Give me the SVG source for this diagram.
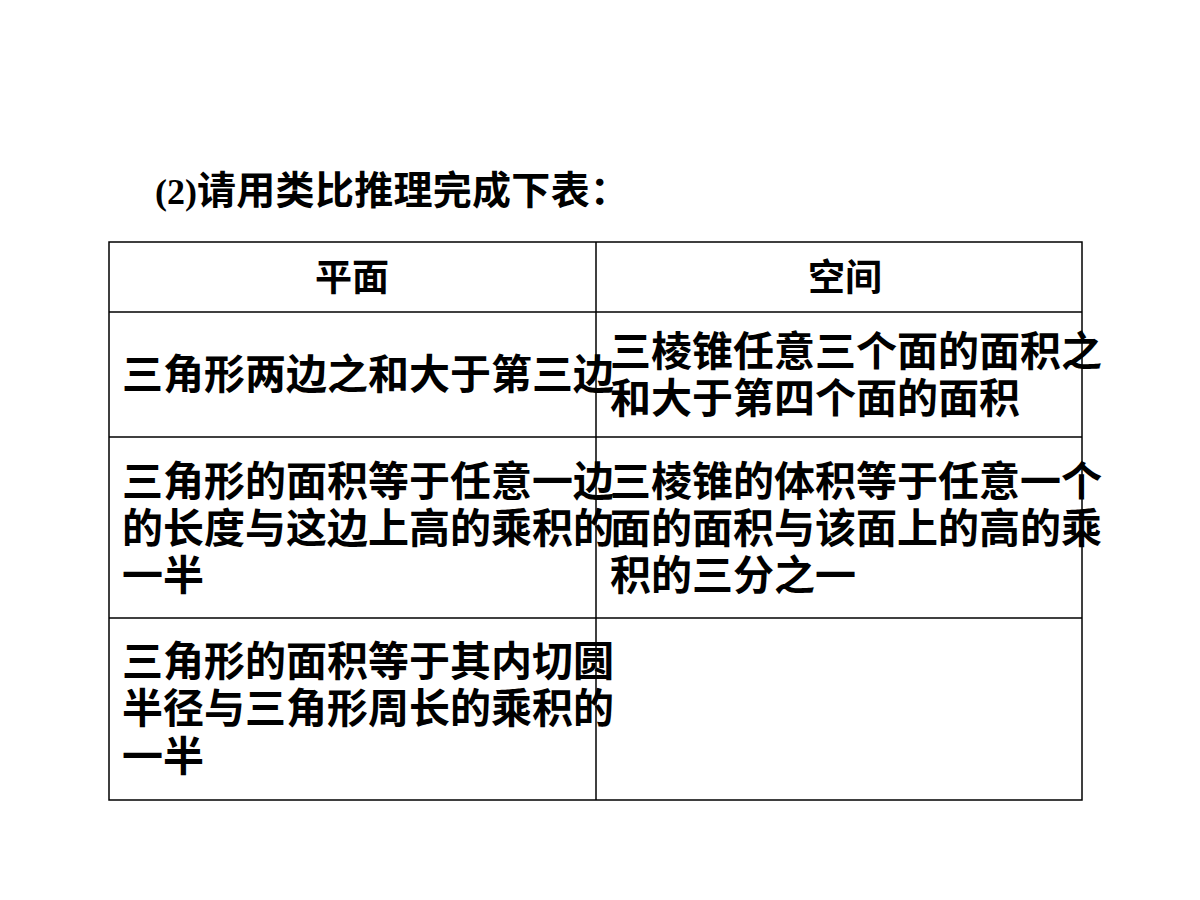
<svg xmlns="http://www.w3.org/2000/svg" width="1200" height="900" viewBox="0 0 1200 900">
<style>
.t{font-family:"Liberation Serif","Noto Sans CJK SC",serif;font-weight:bold;fill:#000}
.c{font-family:"Noto Sans CJK SC",sans-serif;font-weight:bold;font-size:41px;fill:#000}
.h{font-size:37px}
.g{stroke:#000;stroke-width:1.5;fill:none}
</style>
<rect width="1200" height="900" fill="#fff"/>
<text class="t" x="155" y="204" font-size="36">(2)<tspan font-family="Noto Sans CJK SC,sans-serif" font-size="39" textLength="432">请用类比推理完成下表：</tspan></text>
<g id="table">
<rect class="g" x="109" y="242" width="973" height="558"/>
<line class="g" x1="596" y1="242" x2="596" y2="800"/>
<line class="g" x1="109" y1="312" x2="1082" y2="312"/>
<line class="g" x1="109" y1="437" x2="1082" y2="437"/>
<line class="g" x1="109" y1="618" x2="1082" y2="618"/>
</g>
<text class="c h" x="352" y="291" text-anchor="middle">平面</text>
<text class="c h" x="845" y="291" text-anchor="middle">空间</text>
<text class="c" x="122" y="389">三角形两边之和大于第三边</text>
<text class="c" x="610" y="366">三棱锥任意三个面的面积之</text>
<text class="c" x="610" y="413">和大于第四个面的面积</text>
<text class="c" x="122" y="496">三角形的面积等于任意一边</text>
<text class="c" x="122" y="543">的长度与这边上高的乘积的</text>
<text class="c" x="122" y="590">一半</text>
<text class="c" x="610" y="496">三棱锥的体积等于任意一个</text>
<text class="c" x="610" y="543">面的面积与该面上的高的乘</text>
<text class="c" x="610" y="590">积的三分之一</text>
<text class="c" x="122" y="676">三角形的面积等于其内切圆</text>
<text class="c" x="122" y="723">半径与三角形周长的乘积的</text>
<text class="c" x="122" y="771">一半</text>
</svg>
